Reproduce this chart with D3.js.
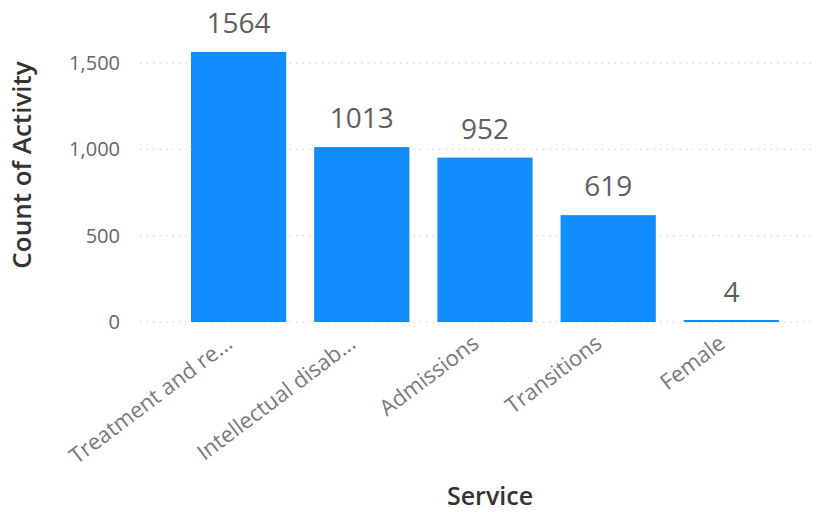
<!DOCTYPE html>
<html>
<head>
<meta charset="utf-8">
<script src="https://cdn.jsdelivr.net/npm/d3@7"></script>
<style>
  html, body { margin: 0; padding: 0; background: #fff; }
  svg { display: block; }
</style>
</head>
<body>
<svg id="chart" width="817" height="512"></svg>
<script>
// Activity counts per service
const categories = ["Treatment and re...", "Intellectual disab...", "Admissions", "Transitions", "Female"];
const counts = [1564, 1013, 952, 619, 4];
const yTicks = [0, 500, 1000, 1500];

const svg = d3.select("#chart");
const fontFamily = "'Open Sans', 'Segoe UI', sans-serif";

const x = d3.scaleBand()
  .domain(categories)
  .range([177, 793])
  .paddingInner(0.227)
  .paddingOuter(0.1135);

const y = d3.scaleLinear()
  .domain([0, 1500])
  .range([322, 63]);

// Dotted gridlines
svg.append("g").selectAll("line")
  .data(yTicks)
  .join("line")
  .attr("x1", 140)
  .attr("x2", 812)
  .attr("y1", d => y(d))
  .attr("y2", d => y(d))
  .attr("stroke", "#c8c8c8")
  .attr("stroke-width", 1)
  .attr("stroke-dasharray", "1.5,5");

// Y axis tick labels
const yAxis = svg.append("g")
  .attr("transform", "translate(120,0)")
  .call(d3.axisLeft(y).tickValues(yTicks).tickFormat(d3.format(",")).tickSize(0).tickPadding(0));
yAxis.select(".domain").remove();
yAxis.selectAll("text")
  .attr("font-family", fontFamily)
  .attr("font-size", 20)
  .attr("fill", "#666666");

// Bars
svg.append("g").selectAll("rect")
  .data(counts)
  .join("rect")
  .attr("x", (d, i) => x(categories[i]))
  .attr("width", x.bandwidth())
  .attr("y", d => Math.min(y(d), y(0) - 2))
  .attr("height", d => Math.max(y(0) - y(d), 2))
  .attr("fill", "#118dff");

// Value labels above bars
svg.append("g").selectAll("text")
  .data(counts)
  .join("text")
  .attr("x", (d, i) => x(categories[i]) + x.bandwidth() / 2)
  .attr("y", d => y(d) - 19)
  .attr("text-anchor", "middle")
  .attr("font-family", fontFamily)
  .attr("font-size", 28)
  .attr("fill", "#605e5c")
  .text(d => d);

// X axis category labels, rotated
const xAxis = svg.append("g")
  .attr("transform", "translate(-14,334)")
  .call(d3.axisBottom(x).tickSize(0).tickPadding(0));
xAxis.select(".domain").remove();
xAxis.selectAll("text")
  .attr("font-family", fontFamily)
  .attr("font-size", 22)
  .attr("fill", "#7a7a7a")
  .attr("text-anchor", "end")
  .attr("dy", "0.7em")
  .attr("transform", "rotate(-37)");

// Axis titles
svg.append("text")
  .attr("transform", "translate(31,165) rotate(-90)")
  .attr("text-anchor", "middle")
  .attr("font-family", fontFamily)
  .attr("font-size", 26)
  .attr("font-weight", 600)
  .attr("fill", "#333333")
  .text("Count of Activity");

svg.append("text")
  .attr("x", 490)
  .attr("y", 505)
  .attr("text-anchor", "middle")
  .attr("font-family", fontFamily)
  .attr("font-size", 25)
  .attr("font-weight", 600)
  .attr("fill", "#333333")
  .text("Service");
</script>
</body>
</html>
